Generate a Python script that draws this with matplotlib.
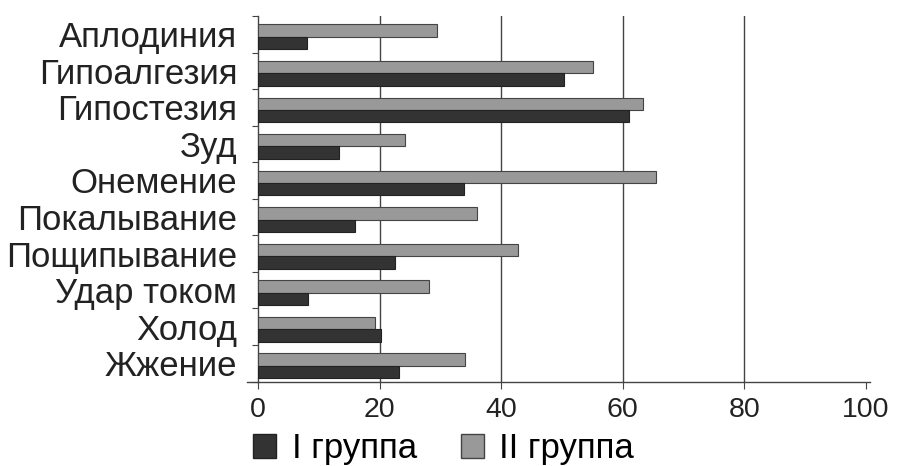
import matplotlib
matplotlib.use("Agg")
import matplotlib.pyplot as plt
from matplotlib.patches import Patch
from matplotlib.lines import Line2D
import numpy as np

categories = ["Аплодиния", "Гипоалгезия", "Гипостезия", "Зуд", "Онемение",
              "Покалывание", "Пощипывание", "Удар током", "Холод", "Жжение"]
group1 = [8.0, 50.3, 61.1, 13.3, 33.8, 16.0, 22.6, 8.3, 20.2, 23.2]
group2 = [29.4, 55.1, 63.3, 24.1, 65.4, 36.0, 42.7, 28.2, 19.3, 34.1]
xticks = [0, 20, 40, 60, 80, 100]
series_names = ["I группа", "II группа"]

plt.rcParams['font.family'] = ['Liberation Sans', 'DejaVu Sans']

W, H = 897, 466
fig = plt.figure(figsize=(W / 100, H / 100), dpi=100)
left, right, top, bottom = 258, 870, 16, 381.5
ax = fig.add_axes([left / W, 1 - bottom / H, (right - left) / W, (bottom - top) / H])

dark = "#333333"
gray = "#999999"
y = np.arange(len(categories))
h = 0.34
ax.barh(y - h / 2 + 0.07, group2, height=h, color=gray, edgecolor="#444444", linewidth=0.8, zorder=3)
ax.barh(y + h / 2 + 0.07, group1, height=h, color=dark, edgecolor="#222222", linewidth=0.8, zorder=3)

ax.set_xlim(0, 100 * (right - left) / (866 - left))
ax.set_ylim(len(categories) - 0.5, -0.5)
ax.set_xticks(xticks)
ax.set_xticklabels([str(v) for v in xticks], fontsize=20.5, color="#222222")
ax.set_yticks(y)
ax.set_yticklabels(categories, fontsize=25, color="#222222")
ax.set_yticks(np.arange(len(categories) + 1) - 0.5, minor=True)
ax.tick_params(axis='y', which='major', length=0, pad=15)
ax.tick_params(axis='y', which='minor', length=4, width=0.8, color="#444444", direction='out')
ax.tick_params(axis='x', which='major', length=5, width=0.8, color="#444444", direction='out', pad=6)

for v in xticks[1:-1]:
    ax.axvline(v, color="#444444", linewidth=1.0, zorder=1)

for s in ["top", "right"]:
    ax.spines[s].set_visible(False)
for s in ["left", "bottom"]:
    ax.spines[s].set_color("#444444")
    ax.spines[s].set_linewidth(1.0)

# x-axis line extends slightly left of the y-axis
ax.add_line(Line2D([-11 / (right - left), 0], [0, 0], transform=ax.transAxes,
                   color="#444444", linewidth=1.0, clip_on=False))

handles = [Patch(facecolor=dark, edgecolor="#222222"), Patch(facecolor=gray, edgecolor="#444444")]
fig.legend(handles, series_names, loc="lower left", bbox_to_anchor=(250 / W, -0.005),
           ncol=2, frameon=False, fontsize=25, handlelength=0.66, handleheight=0.69,
           handletextpad=0.44, columnspacing=1.28, borderaxespad=0, borderpad=0.1)

fig.savefig("out.png", dpi=100)
